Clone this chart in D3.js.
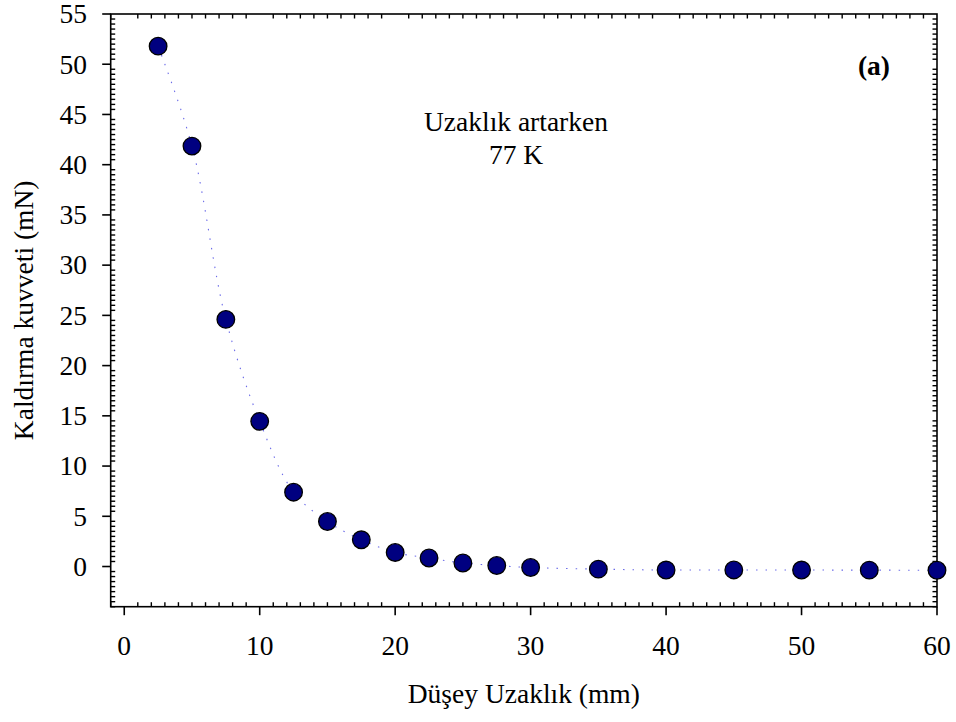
<!DOCTYPE html>
<html>
<head>
<meta charset="utf-8">
<script src="https://cdn.jsdelivr.net/npm/d3@7"></script>
<style>
  html, body { margin: 0; padding: 0; background: #fff; }
  svg { display: block; font-family: "Liberation Serif", "Times New Roman", serif; }
</style>
</head>
<body>
<svg id="chart" width="956" height="722"></svg>
<script>
// Lift force vs. vertical distance at 77 K (distance increasing)
const distance = [2.5, 5, 7.5, 10, 12.5, 15, 17.5, 20, 22.5, 25, 27.5, 30, 35, 40, 45, 50, 55, 60];
const liftForce = [51.8, 41.85, 24.6, 14.45, 7.4, 4.48, 2.66, 1.4, 0.85, 0.35, 0.1, -0.1, -0.26, -0.35, -0.34, -0.35, -0.36, -0.37];
const xTicks = [0, 10, 20, 30, 40, 50, 60];
const yTicks = [0, 5, 10, 15, 20, 25, 30, 35, 40, 45, 50, 55];
const xTitle = "Düşey Uzaklık (mm)";
const yTitle = "Kaldırma kuvveti (mN)";
const noteLines = ["Uzaklık artarken", "77 K"];
const panelLabel = "(a)";

const svg = d3.select("#chart");
const plotL = 110.7, plotR = 937, plotT = 14, plotB = 606.7;

const x = d3.scaleLinear().domain([-1, 60]).range([plotL, plotR]);
const y = d3.scaleLinear().domain([-4, 55]).range([plotB, plotT]);

const axisColor = "#000";
const fontSize = 27.5;

// minor tick positions
const xMinor = d3.range(-1, 60.001, 1).filter(v => Math.abs(v % 10) > 1e-6);
const yMinor = d3.range(-4, 55.001, 0.5).filter(v => Math.abs(v % 5) > 1e-6);

const g = svg.append("g");

// frame
g.append("rect")
  .attr("x", plotL).attr("y", plotT)
  .attr("width", plotR - plotL).attr("height", plotB - plotT)
  .attr("fill", "none").attr("stroke", axisColor).attr("stroke-width", 1.6);

// bottom axis: major outward, minor inward
g.append("g").selectAll("line").data(xTicks).join("line")
  .attr("x1", d => x(d)).attr("x2", d => x(d))
  .attr("y1", plotB).attr("y2", plotB + 8.5)
  .attr("stroke", axisColor).attr("stroke-width", 1.6);
g.append("g").selectAll("line").data(xMinor).join("line")
  .attr("x1", d => x(d)).attr("x2", d => x(d))
  .attr("y1", plotB).attr("y2", plotB - 4.5)
  .attr("stroke", axisColor).attr("stroke-width", 1.4);
// top axis: minor inward
g.append("g").selectAll("line").data(xMinor).join("line")
  .attr("x1", d => x(d)).attr("x2", d => x(d))
  .attr("y1", plotT).attr("y2", plotT + 4.5)
  .attr("stroke", axisColor).attr("stroke-width", 1.4);

// left axis: major outward, minor inward
g.append("g").selectAll("line").data(yTicks).join("line")
  .attr("x1", plotL - 8.5).attr("x2", plotL)
  .attr("y1", d => y(d)).attr("y2", d => y(d))
  .attr("stroke", axisColor).attr("stroke-width", 1.6);
g.append("g").selectAll("line").data(yMinor).join("line")
  .attr("x1", plotL).attr("x2", plotL + 4.5)
  .attr("y1", d => y(d)).attr("y2", d => y(d))
  .attr("stroke", axisColor).attr("stroke-width", 1.4);
// right axis: minor inward
g.append("g").selectAll("line").data(yMinor).join("line")
  .attr("x1", plotR - 4.5).attr("x2", plotR)
  .attr("y1", d => y(d)).attr("y2", d => y(d))
  .attr("stroke", axisColor).attr("stroke-width", 1.4);

// tick labels
g.append("g").selectAll("text").data(xTicks).join("text")
  .attr("x", d => x(d)).attr("y", 655)
  .attr("text-anchor", "middle")
  .attr("font-size", fontSize).attr("fill", "#000")
  .text(d => d);
g.append("g").selectAll("text").data(yTicks).join("text")
  .attr("x", 87).attr("y", d => y(d))
  .attr("dy", "0.34em")
  .attr("text-anchor", "end")
  .attr("font-size", fontSize).attr("fill", "#000")
  .text(d => d);

// axis titles
svg.append("text")
  .attr("x", (plotL + plotR) / 2).attr("y", 703)
  .attr("text-anchor", "middle")
  .attr("font-size", fontSize).attr("fill", "#000")
  .text(xTitle);
svg.append("text")
  .attr("transform", `translate(33,${(plotT + plotB) / 2}) rotate(-90)`)
  .attr("text-anchor", "middle")
  .attr("font-size", fontSize).attr("fill", "#000")
  .text(yTitle);

// dotted smooth connecting line
const line = d3.line()
  .x((d, i) => x(distance[i]))
  .y(d => y(d))
  .curve(d3.curveCatmullRom.alpha(0.5));
svg.append("path")
  .datum(liftForce)
  .attr("d", line)
  .attr("fill", "none")
  .attr("stroke", "#6a6ae8")
  .attr("stroke-width", 1.1)
  .attr("stroke-dasharray", "1.5,8");

// markers
svg.append("g").selectAll("circle").data(liftForce).join("circle")
  .attr("cx", (d, i) => x(distance[i]))
  .attr("cy", d => y(d))
  .attr("r", 8.8)
  .attr("fill", "#000080")
  .attr("stroke", "#000")
  .attr("stroke-width", 1.3);

// annotation
svg.append("g").selectAll("text").data(noteLines).join("text")
  .attr("x", 516).attr("y", (d, i) => 131 + i * 32.5)
  .attr("text-anchor", "middle")
  .attr("font-size", fontSize).attr("fill", "#000")
  .text(d => d);

svg.append("text")
  .attr("x", 890).attr("y", 75)
  .attr("text-anchor", "end")
  .attr("font-size", fontSize).attr("font-weight", "bold").attr("fill", "#000")
  .text(panelLabel);
</script>
</body>
</html>
